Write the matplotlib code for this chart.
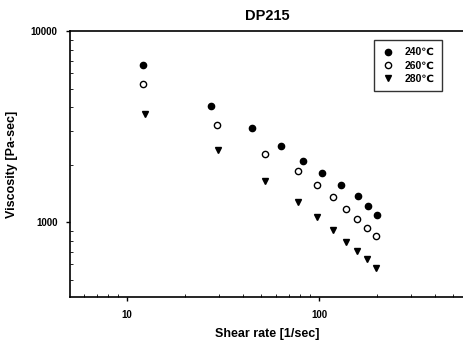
import matplotlib
matplotlib.use("Agg")
from matplotlib import pyplot as plt
from matplotlib.ticker import FixedLocator, FixedFormatter, NullFormatter

plt.rcParams['font.family'] = ['Liberation Sans', 'DejaVu Sans']
plt.rcParams['font.weight'] = 'bold'

# shear rate [1/sec] and viscosity [Pa-sec]
rate_240 = [12.1, 27.4, 44.8, 63.4, 82.6, 103.8, 130.2, 159.7, 179.9, 200.5]
visc_240 = [6640, 4050, 3105, 2500, 2085, 1807, 1565, 1369, 1213, 1089]

rate_260 = [12.1, 29.4, 52.3, 77.8, 97.7, 118.3, 138.3, 157.8, 177.8, 198.2]
visc_260 = [5280, 3222, 2270, 1849, 1565, 1353, 1170, 1037, 931, 846]

rate_280 = [12.4, 29.8, 52.3, 77.8, 97.7, 118.3, 138.3, 157.8, 177.8, 198.2]
visc_280 = [3672, 2382, 1641, 1273, 1062, 908, 786, 705, 640, 574]

labels = ['240\u2103', '260\u2103', '280\u2103']
x_ticks = [10, 100]
y_ticks = [1000, 10000]

fig = plt.figure(figsize=(4.64, 3.43), dpi=100)
ax = fig.add_axes([70 / 464, 1 - 297 / 343, 1 - 70 / 464, (297 - 31) / 343])

ax.plot(rate_240, visc_240, 'o', color='black', markersize=4.5, label=labels[0])
ax.plot(rate_260, visc_260, 'o', mfc='white', mec='black', mew=1.0,
        markersize=4.5, label=labels[1])
ax.plot(rate_280, visc_280, 'v', color='black', markersize=4.5, label=labels[2])

ax.set_xscale('log')
ax.set_yscale('log')
ax.set_xlim(5.05, 569)
ax.set_ylim(405, 10000)

ax.xaxis.set_major_locator(FixedLocator(x_ticks))
ax.yaxis.set_major_locator(FixedLocator(y_ticks))
ax.xaxis.set_major_formatter(FixedFormatter([str(v) for v in x_ticks]))
ax.yaxis.set_major_formatter(FixedFormatter([str(v) for v in y_ticks]))
ax.xaxis.set_minor_formatter(NullFormatter())
ax.yaxis.set_minor_formatter(NullFormatter())
ax.tick_params(which='major', direction='out', length=3, width=1, labelsize=7, pad=6)
ax.tick_params(which='minor', direction='in', length=2, width=0.6)

ax.spines['right'].set_visible(False)
for s in ['left', 'bottom', 'top']:
    ax.spines[s].set_linewidth(1.2)

ax.set_title('DP215', fontsize=10.5, fontweight='bold', pad=8)
ax.set_xlabel('Shear rate [1/sec]', fontsize=9, fontweight='bold', labelpad=6)
ax.set_ylabel('Viscosity [Pa-sec]', fontsize=9, fontweight='bold', labelpad=9)

leg = ax.legend(loc='upper right', bbox_to_anchor=(0.944, 0.966), borderaxespad=0,
                fontsize=7.5, frameon=True, fancybox=False, edgecolor='black',
                handletextpad=1.0, borderpad=0.7, labelspacing=0.3, handlelength=1.2)
leg.get_frame().set_linewidth(1.0)

fig.savefig('out.png', dpi=100)
